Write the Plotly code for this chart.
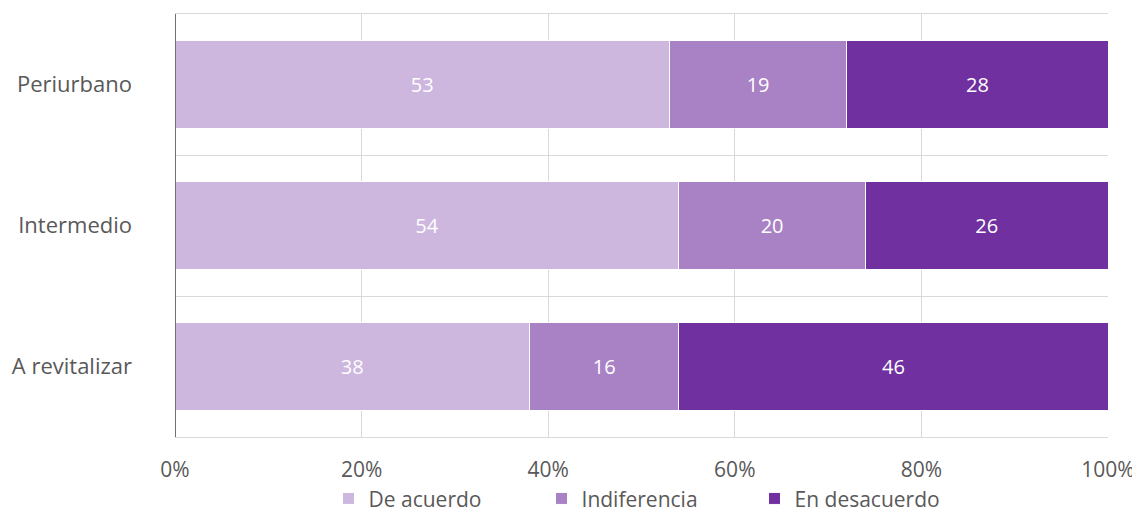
import plotly.graph_objects as go

categories = ["Periurbano", "Intermedio", "A revitalizar"]
series_names = ["De acuerdo", "Indiferencia", "En desacuerdo"]
de_acuerdo = [53, 54, 38]
indiferencia = [19, 20, 16]
en_desacuerdo = [28, 26, 46]
x_tick_vals = [0, 20, 40, 60, 80, 100]
x_tick_text = ["0%", "20%", "40%", "60%", "80%", "100%"]
colors = ["#CDB7DE", "#A882C4", "#7030A0"]

fig = go.Figure()
for name, vals, col in zip(series_names, [de_acuerdo, indiferencia, en_desacuerdo], colors):
    fig.add_trace(go.Bar(
        y=categories, x=vals, name=name, orientation="h",
        marker=dict(color=col, line=dict(color="white", width=1)),
        text=[str(v) for v in vals], textposition="inside", insidetextanchor="middle",
        textfont=dict(color="white", size=20, family="Open Sans"),
        width=0.63, hoverinfo="skip",
    ))

fig.update_layout(
    barmode="stack",
    width=1132, height=507,
    margin=dict(l=167, r=32, t=6, b=78, autoexpand=False),
    paper_bgcolor="white", plot_bgcolor="white",
    font=dict(family="Open Sans", color="#595959", size=22),
    showlegend=True,
    legend=dict(orientation="h", x=0.507, xanchor="center",
                yref="container", y=0.032, yanchor="middle",
                font=dict(size=21, color="#595959"), itemwidth=30, traceorder="normal",
                entrywidth=168, entrywidthmode="pixels"),
    uniformtext=dict(minsize=10, mode="show"),
)
fig.update_xaxes(range=[0, 100], tickvals=x_tick_vals, ticktext=x_tick_text,
                 showgrid=True, gridcolor="#D9D9D9", gridwidth=1, zeroline=False,
                 showline=True, linecolor="#D9D9D9", mirror=True, ticks="",
                 ticklabelstandoff=14, tickfont=dict(size=21), automargin=False)
fig.update_yaxes(autorange="reversed", type="category", tickson="boundaries",
                 showgrid=True, gridcolor="#D9D9D9", gridwidth=1,
                 showline=False, ticks="", ticklabelstandoff=42,
                 tickfont=dict(size=22), automargin=False)
fig.add_shape(type="line", xref="x", yref="paper", x0=0, x1=0, y0=0, y1=1,
              line=dict(color="#404040", width=1.5))

fig.write_html("out.html")
